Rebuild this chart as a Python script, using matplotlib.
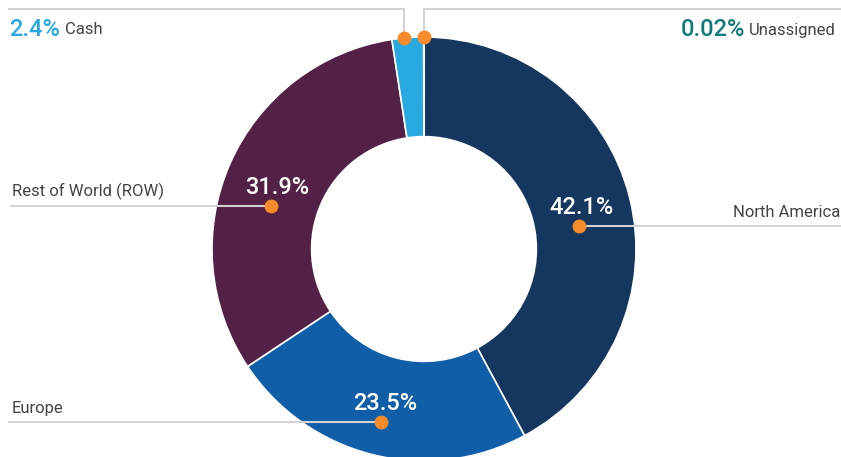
import matplotlib
matplotlib.use("Agg")
import numpy as np
import matplotlib.pyplot as plt

# regions in pie order (clockwise from 12 o'clock)
regions = ['North America', 'Europe', 'Rest of World (ROW)', 'Cash', 'Unassigned']
shares = [42.1, 23.5, 31.9, 2.4, 0.02]
share_labels = ['42.1%', '23.5%', '31.9%', '2.4%', '0.02%']
colors = ['#14365f', '#115ea8', '#522145', '#28a9e1', '#137a7a']

plt.rcParams['font.family'] = ['Roboto', 'DejaVu Sans']

W, H = 841, 457
fig = plt.figure(figsize=(W / 100, H / 100), dpi=100)
ax = fig.add_axes([0, 0, 1, 1])

cx, cy, R = 424, H - 249, 212
wedges, _ = ax.pie(shares, colors=colors, startangle=90, counterclock=False,
                   center=(cx, cy), radius=R, normalize=True,
                   wedgeprops=dict(width=R * 0.47, edgecolor='white', linewidth=1.2))
ax.set_xlim(0, W)
ax.set_ylim(0, H)
ax.set_aspect('equal')
ax.axis('off')

line_c = '#d3d3d3'
dot_c = '#f58b2a'

def polar(angle, r):
    a = np.deg2rad(angle)
    return cx + r * np.cos(a), cy + r * np.sin(a)

# anchor point for each callout: (angle in degrees, radius fraction)
anchors = [(8.4, 0.74), (256.0, 0.84), (164.3, 0.75), (95.4, 1.0), (90.0, 1.0)]
pts = [polar(a, f * R) for a, f in anchors]

big = dict(fontsize=17, fontweight='medium')
small = dict(fontsize=12, color='#444444')

# North America
x, y = pts[0]
ax.plot([x, W], [y, y], color=line_c, lw=1.5, zorder=3)
ax.text(x + 2, y + 7, share_labels[0], color='white', ha='center', va='bottom', zorder=5, **big)
ax.text(W - 1, y + 6, regions[0], ha='right', va='bottom', **small)

# Europe
x, y = pts[1]
ax.plot([9, x], [y, y], color=line_c, lw=1.5, zorder=3)
ax.text(x + 4, y + 7, share_labels[1], color='white', ha='center', va='bottom', zorder=5, **big)
ax.text(12, y + 6, regions[1], ha='left', va='bottom', **small)

# Rest of World
x, y = pts[2]
ax.plot([11, x], [y, y], color=line_c, lw=1.5, zorder=3)
ax.text(x + 6, y + 7, share_labels[2], color='white', ha='center', va='bottom', zorder=5, **big)
ax.text(12, y + 6, regions[2], ha='left', va='bottom', **small)

fig.canvas.draw()
rend = fig.canvas.get_renderer()

# Cash (top left)
top = H - 9
x, y = pts[3]
ax.plot([9, x, x], [top, top, y], color=line_c, lw=1.5, zorder=3)
t = ax.text(9, H - 29, share_labels[3], color=colors[3], ha='left', va='center', **big)
bb = t.get_window_extent(rend)
ax.text(bb.x1 + 5, H - 30, regions[3], ha='left', va='center', **small)

# Unassigned (top right)
x, y = pts[4]
ax.plot([W, x, x], [top, top, y], color=line_c, lw=1.5, zorder=3)
t = ax.text(W - 5, H - 30, regions[4], ha='right', va='center', **small)
bb = t.get_window_extent(rend)
ax.text(bb.x0 - 4, H - 29, share_labels[4], color=colors[4], ha='right', va='center', **big)

for x, y in pts:
    ax.plot(x, y, 'o', color=dot_c, ms=9, zorder=6)

fig.savefig('out.png', dpi=100)
